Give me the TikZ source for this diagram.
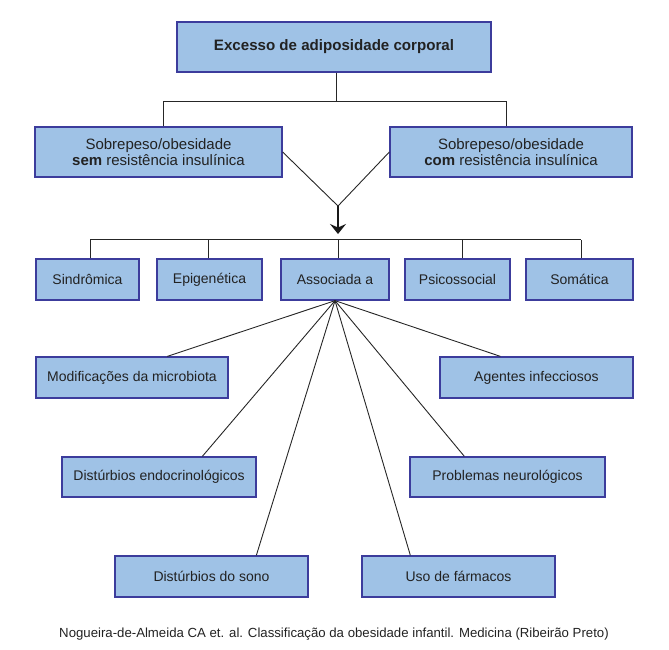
\documentclass[tikz,border=0pt]{standalone}
\usepackage{fontspec}
\setmainfont{Liberation Sans}
\usetikzlibrary{arrows.meta}
\definecolor{boxfill}{HTML}{9FC2E6}
\definecolor{boxdraw}{HTML}{3C3C9C}
\definecolor{txt}{HTML}{222222}
\begin{document}
\begin{tikzpicture}[x=1pt,y=-1pt,
  box/.style={draw=boxdraw,fill=boxfill,line width=1.3pt,inner sep=0pt,text=txt,align=center,font=\fontsize{14}{17}\selectfont},
  twoline/.style={box,font=\fontsize{15}{16.5}\selectfont},
  conn/.style={draw=black!85,line width=0.9pt},
  bigarrow/.style={draw=black!90,line width=2.8pt,-{Stealth[length=10pt,width=16pt,inset=3.5pt]}}]
\useasboundingbox (0,0) rectangle (669,649);
% top
\node[box,minimum width=314pt,minimum height=50pt,font=\bfseries\fontsize{15.1}{17}\selectfont] (top) at (334,47) {Excesso de adiposidade corporal};
\node[twoline,minimum width=247pt,minimum height=50pt] (semri) at (158.5,152) {Sobrepeso/obesidade\\\textbf{sem} resistência insulínica};
\node[twoline,minimum width=242pt,minimum height=50pt] (comri) at (511,152) {Sobrepeso/obesidade\\\textbf{com} resistência insulínica};
% row 2
\node[box,minimum width=103pt,minimum height=41pt] (sind) at (87.5,279.5) {Sindrômica};
\node[box,minimum width=105pt,minimum height=41pt] (epi) at (209.5,279.5) {Epigenética};
\node[box,minimum width=108pt,minimum height=41pt] (assoc) at (335,279.5) {Associada a};
\node[box,minimum width=105pt,minimum height=41pt] (psico) at (457.5,279.5) {Psicossocial};
\node[box,minimum width=107pt,minimum height=41pt] (soma) at (579.5,279.5) {Somática};
% fan
\node[box,minimum width=192pt,minimum height=41pt] (micro) at (132,377.5) {Modificações da microbiota};
\node[box,minimum width=193pt,minimum height=41pt] (agent) at (536.5,377.5) {Agentes infecciosos};
\node[box,minimum width=194pt,minimum height=40pt] (endo) at (159,477) {Distúrbios endocrinológicos};
\node[box,minimum width=195pt,minimum height=40pt] (neuro) at (507.5,477) {Problemas neurológicos};
\node[box,minimum width=193pt,minimum height=41pt] (sono) at (211.5,576.5) {Distúrbios do sono};
\node[box,minimum width=193pt,minimum height=41pt] (farm) at (458.5,576.5) {Uso de fármacos};
% caption
\node[text=txt,font=\fontsize{13.2}{15}\selectfont,inner sep=0pt] (cap) at (334,634) {Nogueira-de-Almeida CA et. al. Classificação da obesidade infantil. Medicina (Ribeirão Preto)};
% top connectors
\coordinate (tj) at (336,101);
\coordinate (tl) at (163,101);
\coordinate (tr) at (506,101);
\draw[conn] (top.south -| tj) -- (tj);
\draw[conn] (semri.north -| tl) -- (tl) -- (tr) -- (comri.north -| tr);
% V and arrow
\coordinate (v) at (338,206);
\coordinate (vtip) at (338,234);
\draw[conn] (semri.east) -- (v) -- (comri.west);
\draw[bigarrow] (v) -- (vtip);
% row 2 bar
\coordinate (bl) at (90,239.5);
\coordinate (br) at (581,239.5);
\draw[conn] (bl) -- (br);
\draw[conn] (sind.north -| bl) -- (bl);
\draw[conn] (epi.north -| 208,0) -- (208,239.5);
\draw[conn] (assoc.north -| 338,0) -- (338,239.5);
\draw[conn] (psico.north -| 462,0) -- (462,239.5);
\draw[conn] (soma.north -| br) -- (br);
% fan lines
\draw[conn] (assoc.south) -- ([xshift=132pt]micro.north west);
\draw[conn] (assoc.south) -- ([xshift=61pt]agent.north west);
\draw[conn] (assoc.south) -- ([xshift=141pt]endo.north west);
\draw[conn] (assoc.south) -- ([xshift=55pt]neuro.north west);
\draw[conn] (assoc.south) -- ([xshift=142pt]sono.north west);
\draw[conn] (assoc.south) -- ([xshift=49pt]farm.north west);
\end{tikzpicture}
\end{document}
